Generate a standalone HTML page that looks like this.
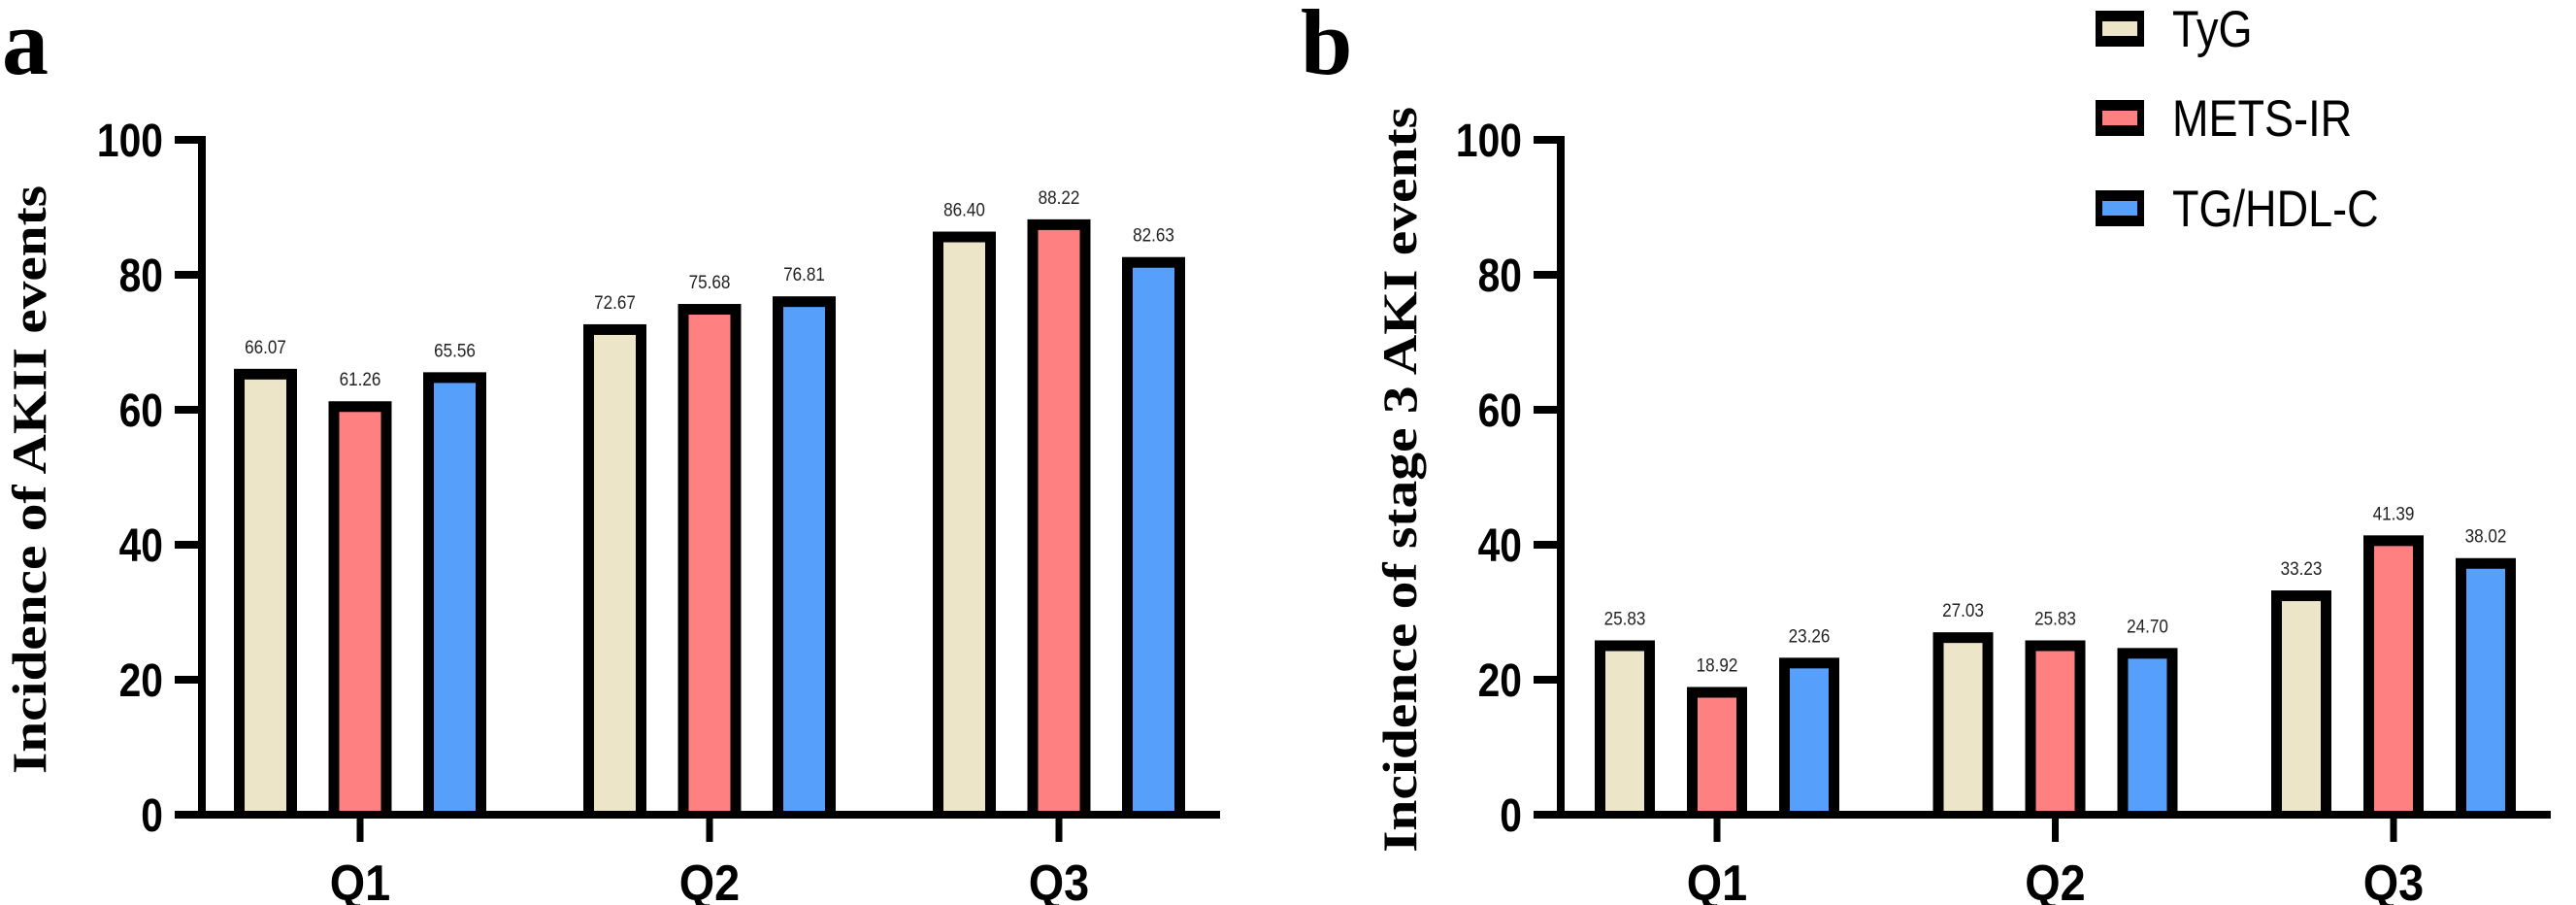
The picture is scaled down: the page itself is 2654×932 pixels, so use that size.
<!DOCTYPE html>
<html><head><meta charset="utf-8"><style>
html,body{margin:0;padding:0;background:#fff;}
svg{display:block;}
</style></head><body>
<svg id="chart" width="2654" height="932" viewBox="0 0 2654 932" xmlns="http://www.w3.org/2000/svg">
<g id="legend"></g>
</svg>
<script>
const categories = ["Q1","Q2","Q3"];
const seriesNames = ["TyG","METS-IR","TG/HDL-C"];
const panelA_TyG = [66.07,72.67,86.40];
const panelA_METS = [61.26,75.68,88.22];
const panelA_TGHDL = [65.56,76.81,82.63];
const panelB_TyG = [25.83,27.03,33.23];
const panelB_METS = [18.92,25.83,41.39];
const panelB_TGHDL = [23.26,24.70,38.02];
const yTicks = [0,20,40,60,80,100];
const colors = ["#ECE5C8","#FF8080","#56A0FB"];

const NS = "http://www.w3.org/2000/svg";
const svg = document.getElementById('chart');
function mk(tag, attrs, parent){
  const e = document.createElementNS(NS, tag);
  for (const k in attrs) e.setAttribute(k, attrs[k]);
  (parent||svg).appendChild(e);
  return e;
}
const Y0 = 839, Y100 = 144;
function yScale(v){ return Y0 - (v/100)*(Y0-Y100); }

function drawPanel(p){
  const g = mk('g', {});
  
  
  function xScale(i){ return p.q1 + i*p.step; }
  // bars
  const series = [p.s0, p.s1, p.s2];
  series.forEach((arr, si) => {
    arr.forEach((v, ci) => {
      const cx = xScale(ci) + (si-1)*p.off;
      const y = yScale(v);
      const bw = p.bw, sw = 11;
      const outer = mk('rect', {x: cx-bw/2, y: y, width: bw, height: Y0-y, fill: '#000'}, g);
      
      
      const inner = mk('rect', {x: cx-bw/2+sw, y: y+sw, width: Math.max(0,bw-2*sw), height: Math.max(0,Y0-y-sw), fill: colors[si]}, g);
      
      
      const t = mk('text', {x: cx, y: y-16, 'text-anchor': 'middle', 'font-family': 'Liberation Sans, sans-serif', 'font-size': 19, fill: '#222', transform: `translate(${cx},0) scale(0.9,1) translate(${-cx},0)`}, g);
      t.textContent = v.toFixed(2);
      
      
    });
  });
  // axes
  const ya = mk('line', {x1: p.ax, y1: Y100-4, x2: p.ax, y2: Y0+4, stroke: '#000', 'stroke-width': 8}, g);
  
  
  const xa = mk('line', {x1: p.ax-28, y1: Y0, x2: p.xend, y2: Y0, stroke: '#000', 'stroke-width': 8}, g);
  
  
  yTicks.forEach(v => {
    const y = yScale(v);
    const tk = mk('line', {x1: p.ax-28, y1: y, x2: p.ax, y2: y, stroke: '#000', 'stroke-width': 8}, g);
    
    
    const tx = p.ax-40;
    const t = mk('text', {x: tx, y: y+17, 'text-anchor': 'end', 'font-family': 'Liberation Sans, sans-serif', 'font-weight': 'bold', 'font-size': 48, fill: '#000', transform: `translate(${tx},0) scale(0.85,1) translate(${-tx},0)`}, g);
    t.textContent = v;
    
    
  });
  categories.forEach((c, i) => {
    const x = xScale(i);
    const tk = mk('line', {x1: x, y1: Y0, x2: x, y2: Y0+28, stroke: '#000', 'stroke-width': 7}, g);
    
    
    const t = mk('text', {x: x, y: 927, 'text-anchor': 'middle', 'font-family': 'Liberation Sans, sans-serif', 'font-weight': 'bold', 'font-size': 52, fill: '#000', transform: `translate(${x},0) scale(0.9,1) translate(${-x},0)`}, g);
    t.textContent = c;
    
    
  });
  const yt = mk('text', {x: 0, y: 0, 'text-anchor': 'middle', 'font-family': 'Liberation Serif, serif', 'font-weight': 'bold', 'font-size': 50, fill: '#000', textLength: p.tlen, lengthAdjust: 'spacingAndGlyphs', transform: `translate(${p.tx},494) rotate(-90)`}, g);
  yt.textContent = p.title;
  
  
  const lt = mk('text', {x: p.lx, y: 76, 'font-family': 'Liberation Serif, serif', 'font-weight': 'bold', 'font-size': 96, fill: '#000'}, g);
  lt.textContent = p.letter;
  
  
}

drawPanel({name:'panel-a', s0: panelA_TyG, s1: panelA_METS, s2: panelA_TGHDL, q1: 371, step: 360, off: 97.5, bw: 65, ax: 208, xend: 1257, tx: 47, tlen: 606, title: 'Incidence of AKII events', letter: 'a', lx: 2});
drawPanel({name:'panel-b', s0: panelB_TyG, s1: panelB_METS, s2: panelB_TGHDL, q1: 1769, step: 348.5, off: 95, bw: 62, ax: 1608, xend: 2628, tx: 1459, tlen: 768, title: 'Incidence of stage 3 AKI events', letter: 'b', lx: 1340});

// legend
const legend = document.getElementById('legend');
const legendY = [11, 103, 196];
seriesNames.forEach((n, i) => {
  const g = mk('g', {}, legend);
  
  
  mk('rect', {x: 2159, y: legendY[i], width: 50, height: 37, fill: '#000'}, g);
  mk('rect', {x: 2166, y: legendY[i]+11, width: 36, height: 15, fill: colors[i]}, g);
  const t = mk('text', {x: 2238, y: legendY[i]+37, 'font-family': 'Liberation Sans, sans-serif', 'font-size': 53, fill: '#000', transform: `translate(2238,0) scale(0.85,1) translate(-2238,0)`}, g);
  t.textContent = n;
  
  
});
</script>
</body></html>
